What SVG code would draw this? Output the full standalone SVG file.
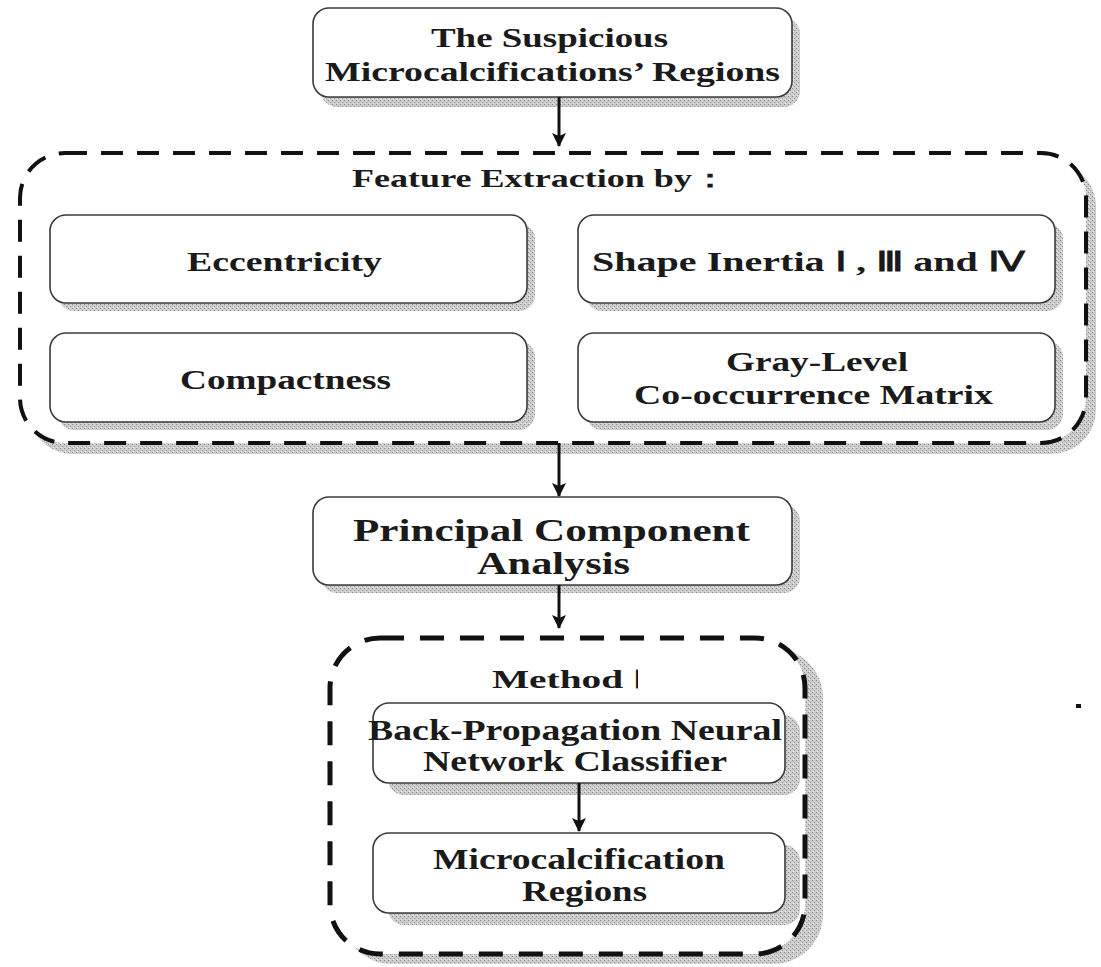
<svg xmlns="http://www.w3.org/2000/svg" width="1101" height="967" viewBox="0 0 1101 967">
<defs>
<pattern id="dots" width="4" height="4" patternUnits="userSpaceOnUse">
<rect width="4" height="4" fill="#cdcdcd"/>
<rect x="0" y="0" width="1" height="1" fill="#858585"/>
<rect x="2" y="2" width="1" height="1" fill="#959595"/>
<rect x="1" y="3" width="1" height="1" fill="#eeeeee"/>
</pattern>
<marker id="ah" markerWidth="14" markerHeight="14" refX="13" refY="7" orient="auto" markerUnits="userSpaceOnUse">
<path d="M0,0 L14,7 L0,14 L3,7 Z" fill="#111"/>
</marker>
<clipPath id="cut"><rect x="620" y="660" width="18" height="40"/></clipPath>
</defs>
<style>
.box{fill:#fff;stroke:#3a3a3a;stroke-width:1.6}
.sh{fill:url(#dots)}
.dash{fill:#fff;stroke:#111;stroke-width:4;stroke-dasharray:22 14}
.dash2{fill:#fff;stroke:#111;stroke-width:5;stroke-dasharray:24 16}
.t{font-family:"Liberation Serif","Times New Roman",serif;font-weight:bold;fill:#1a1a1a;text-anchor:middle}
.f26{font-size:28px}
.f23{font-size:25px}
.f29{font-size:31px}
.f27{font-size:29px}
.ln{stroke:#111;stroke-width:3;fill:none}
</style>
<rect width="1101" height="967" fill="#fff"/>

<g id="top">
<rect class="sh" x="321" y="18" width="479" height="89" rx="16"/>
<rect class="box" x="313" y="8" width="479" height="89" rx="16"/>
<text class="t f26" x="549.5" y="47" textLength="237" lengthAdjust="spacingAndGlyphs">The Suspicious</text>
<text class="t f26" x="552.5" y="81" textLength="455" lengthAdjust="spacingAndGlyphs">Microcalcifications’ Regions</text>
</g>

<g id="feature-extraction">
<rect class="sh" x="28" y="162" width="1068" height="292" rx="45"/>
<rect class="dash" x="20" y="153" width="1066" height="290" rx="45"/>
<text class="t f23" x="540" y="187" textLength="376" lengthAdjust="spacingAndGlyphs">Feature Extraction by：</text>
</g>

<g id="eccentricity">
<rect class="sh" x="58" y="223" width="477" height="88" rx="16"/>
<rect class="box" x="50" y="215" width="477" height="88" rx="16"/>
<text class="t f26" x="284.5" y="271" textLength="195" lengthAdjust="spacingAndGlyphs">Eccentricity</text>
</g>

<g id="compactness">
<rect class="sh" x="58" y="341" width="477" height="89" rx="16"/>
<rect class="box" x="50" y="333" width="477" height="89" rx="16"/>
<text class="t f26" x="285.5" y="389" textLength="211" lengthAdjust="spacingAndGlyphs">Compactness</text>
</g>

<g id="shape-inertia">
<rect class="sh" x="586" y="223" width="477" height="88" rx="16"/>
<rect class="box" x="578" y="215" width="477" height="88" rx="16"/>
<text class="t f26" x="808.5" y="271" textLength="433" lengthAdjust="spacingAndGlyphs">Shape Inertia Ⅰ , Ⅲ and Ⅳ</text>
</g>

<g id="glcm">
<rect class="sh" x="586" y="341" width="477" height="89" rx="16"/>
<rect class="box" x="578" y="333" width="477" height="89" rx="16"/>
<text class="t f26" x="817" y="371" textLength="182" lengthAdjust="spacingAndGlyphs">Gray-Level</text>
<text class="t f26" x="813.5" y="404" textLength="359" lengthAdjust="spacingAndGlyphs">Co-occurrence Matrix</text>
</g>

<g id="pca">
<rect class="sh" x="321" y="505" width="479" height="88" rx="16"/>
<rect class="box" x="313" y="497" width="479" height="88" rx="16"/>
<text class="t f29" x="551.5" y="541" textLength="397" lengthAdjust="spacingAndGlyphs">Principal Component</text>
<text class="t f29" x="553.5" y="574" textLength="153" lengthAdjust="spacingAndGlyphs">Analysis</text>
</g>

<g id="method">
<rect class="sh" x="342" y="648" width="481" height="316" rx="50"/>
<rect class="dash2" x="330" y="638" width="475" height="316" rx="50"/>
<text class="t f23" x="557.5" y="688" textLength="131" lengthAdjust="spacingAndGlyphs">Method</text>
<text class="t f23" x="637" y="688" clip-path="url(#cut)" style="text-anchor:middle">Ⅰ</text>
</g>

<g id="bpnn">
<rect class="sh" x="388" y="715" width="412" height="80" rx="16"/>
<rect class="box" x="373" y="703" width="412" height="80" rx="16"/>
<text class="t f27" x="575" y="740" textLength="414" lengthAdjust="spacingAndGlyphs">Back-Propagation Neural</text>
<text class="t f27" x="575" y="771" textLength="304" lengthAdjust="spacingAndGlyphs">Network Classifier</text>
</g>

<g id="micro">
<rect class="sh" x="388" y="845" width="412" height="80" rx="16"/>
<rect class="box" x="373" y="833" width="412" height="80" rx="16"/>
<text class="t f27" x="579" y="869" textLength="292" lengthAdjust="spacingAndGlyphs">Microcalcification</text>
<text class="t f27" x="584.5" y="901" textLength="125" lengthAdjust="spacingAndGlyphs">Regions</text>
</g>

<g id="connectors">
<line class="ln" x1="559" y1="97" x2="559" y2="146" marker-end="url(#ah)"/>
<line class="ln" x1="559" y1="443" x2="559" y2="496" marker-end="url(#ah)"/>
<line class="ln" x1="559" y1="585" x2="559" y2="628" marker-end="url(#ah)"/>
<line class="ln" x1="579" y1="783" x2="579" y2="831" marker-end="url(#ah)"/>
</g>

<rect x="1076" y="704" width="5" height="4" fill="#111"/>
</svg>
